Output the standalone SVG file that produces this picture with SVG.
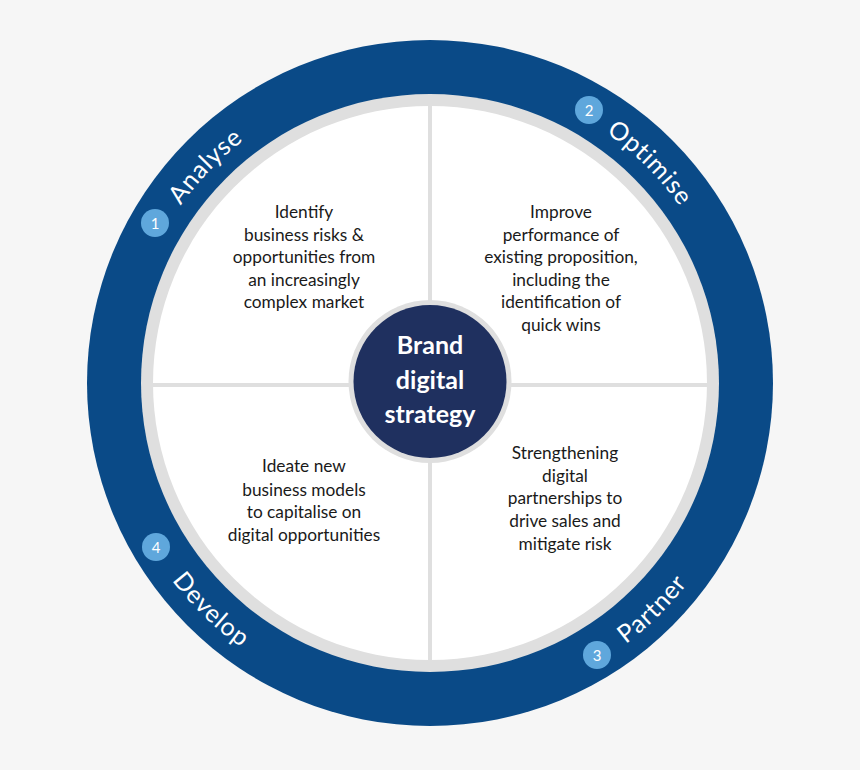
<svg xmlns="http://www.w3.org/2000/svg" width="860" height="770" viewBox="0 0 860 770">
<style>
.body{font-family:Lato,"Open Sans","Liberation Sans",sans-serif;font-size:17.3px;fill:#1a1a1a;text-anchor:middle}
.arc{font-family:Lato,"Open Sans","Liberation Sans",sans-serif;font-size:25px;fill:#ffffff;letter-spacing:0.8px}
.num{font-family:Lato,"Open Sans","Liberation Sans",sans-serif;font-size:15px;fill:#ffffff;text-anchor:middle}
.badge{fill:#5fa7dc}
.ctr{font-family:Lato,"Open Sans","Liberation Sans",sans-serif;font-size:25px;font-weight:700;fill:#ffffff;text-anchor:middle}
</style>
<defs>
<path id="pAnalyse" d="M124.7,361.6 A306,306 0 0,1 398.0,78.7"/>
<path id="pOptimise" d="M456.7,78.2 A306,306 0 0,1 734.8,356.3"/>
<path id="pPartner" d="M455.6,708.0 A325,325 0 0,0 754.5,414.2"/>
<path id="pDevelop" d="M106.8,417.0 A325,325 0 0,0 407.3,707.2"/>
</defs>
<rect width="860" height="770" fill="#f6f6f6"/>
<g id="ring">
<circle cx="430" cy="383" r="343" fill="#0a4a87"/>
<circle cx="430" cy="383" r="289" fill="#dfdfdf"/>
<circle cx="430" cy="383" r="277" fill="#ffffff"/>
</g>
<g id="connectors">
<line x1="430" y1="106" x2="430" y2="660" stroke="#dfdfdf" stroke-width="4"/>
<line x1="153" y1="385" x2="707" y2="385" stroke="#dfdfdf" stroke-width="4"/>
</g>
<g id="center">
<circle cx="430" cy="381.5" r="81.5" fill="#dfdfdf"/>
<circle cx="430" cy="381.5" r="76.5" fill="#1f305f"/>
<text class="ctr" x="430" y="354">Brand</text>
<text class="ctr" x="430" y="389">digital</text>
<text class="ctr" x="430" y="423">strategy</text>
</g>
<g id="q1">
<text class="body" x="304"><tspan x="304" y="218">Identify</tspan><tspan x="304" y="241">business risks &amp;</tspan><tspan x="304" y="263">opportunities from</tspan><tspan x="304" y="286">an increasingly</tspan><tspan x="304" y="308">complex market</tspan></text>
</g>
<g id="q2">
<text class="body" x="561"><tspan x="561" y="218">Improve</tspan><tspan x="561" y="241">performance of</tspan><tspan x="561" y="263">existing proposition,</tspan><tspan x="561" y="286">including the</tspan><tspan x="561" y="308">identification of</tspan><tspan x="561" y="331">quick wins</tspan></text>
</g>
<g id="q3">
<text class="body" x="565"><tspan x="565" y="459">Strengthening</tspan><tspan x="565" y="482">digital</tspan><tspan x="565" y="504">partnerships to</tspan><tspan x="565" y="527">drive sales and</tspan><tspan x="565" y="550">mitigate risk</tspan></text>
</g>
<g id="q4">
<text class="body" x="304"><tspan x="304" y="472">Ideate new</tspan><tspan x="304" y="496">business models</tspan><tspan x="304" y="518">to capitalise on</tspan><tspan x="304" y="541">digital opportunities</tspan></text>
</g>
<g id="analyse">
<text class="arc"><textPath href="#pAnalyse" startOffset="50%" text-anchor="middle">Analyse</textPath></text>
<circle class="badge" cx="155" cy="223" r="14"/>
<text class="num" x="155" y="228.5">1</text>
</g>
<g id="optimise">
<text class="arc"><textPath href="#pOptimise" startOffset="50%" text-anchor="middle">Optimise</textPath></text>
<circle class="badge" cx="589" cy="110" r="14"/>
<text class="num" x="589" y="115.5">2</text>
</g>
<g id="partner">
<text class="arc"><textPath href="#pPartner" startOffset="50%" text-anchor="middle">Partner</textPath></text>
<circle class="badge" cx="597" cy="655" r="14"/>
<text class="num" x="597" y="660.5">3</text>
</g>
<g id="develop">
<text class="arc"><textPath href="#pDevelop" startOffset="50%" text-anchor="middle">Develop</textPath></text>
<circle class="badge" cx="156" cy="547" r="14"/>
<text class="num" x="156" y="552.5">4</text>
</g>
</svg>
